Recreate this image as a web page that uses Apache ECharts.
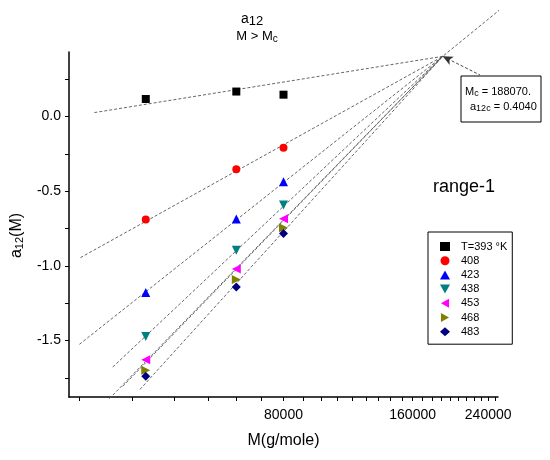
<!DOCTYPE html>
<html>
<head>
<meta charset="utf-8">
<title>a12 M &gt; Mc</title>
<script src="https://cdn.jsdelivr.net/npm/echarts@6/dist/echarts.min.js"></script>
<style>
  html, body { margin: 0; padding: 0; background: #fff; }
  #container { width: 550px; height: 460px; }
</style>
</head>
<body>
<div id="container"></div>
<script>
// molecular weight of the three samples (g/mole)
var massM = [38200, 62100, 80000];

// a12(M), one array per temperature
var a393 = [0.118, 0.168, 0.147];
var a408 = [-0.690, -0.353, -0.208];
var a423 = [-1.178, -0.686, -0.436];
var a438 = [-1.473, -0.896, -0.592];
var a453 = [-1.630, -1.022, -0.684];
var a468 = [-1.700, -1.092, -0.744];
var a483 = [-1.740, -1.142, -0.784];

var seriesNames = ['T=393 °K', '408', '423', '438', '453', '468', '483'];
var seriesValues = [a393, a408, a423, a438, a453, a468, a483];

// dashed fit lines: start point of each, all meet at the critical point
var fitStartM = [28990, 26900, 26750, 32000, 31420, 33750, 37030];
var fitStartA = [0.027, -0.945, -1.526, -1.678, -1.890, -1.808, -1.828];
var Mc = 188070;
var a12c = 0.4040;
var fit423End = [263000, 0.746];   // the 423 line runs on past the crossing

// axis ticks
var xLabelValues = [80000, 160000, 240000];
var yLabelValues = [-1.5, -1.0, -0.5, 0.0];
var yTickValues = [-1.75, -1.5, -1.25, -1.0, -0.75, -0.5, -0.25, 0.0, 0.25];

var xTickValues = [];
for (var k = 3; k <= 28; k++) {
    xTickValues.push(80000 * k / 9);
}

var colors = ['#000000', '#ff0000', '#0000ff', '#008080', '#ff00ff', '#808000', '#000080'];
var symbols = ['rect', 'circle', 'triangle', 'triangle', 'triangle', 'triangle', 'diamond'];
var rotates = [0, 0, 0, 180, 90, -90, 0];
var sizes = [8, 8, 9, 9, 9, 9, 9];
// legend does not follow symbolRotate, so the turned triangles get their own paths
var legendIcons = ['rect', 'circle', 'triangle',
    'path://M0,0 L10,0 L5,9 Z',
    'path://M9,0 L9,10 L0,5 Z',
    'path://M0,0 L0,10 L9,5 Z',
    'diamond'];

var font = 'Liberation Sans';
var subStyle = function (size, shift) {
    return { fontSize: size, fontFamily: font, color: '#000', padding: [shift * 2, 0, 0, 0] };
};

var series = [];
var legendData = [];

for (var i = 0; i < seriesValues.length; i++) {
    var pts = [];
    for (var j = 0; j < massM.length; j++) {
        pts.push([massM[j], seriesValues[i][j]]);
    }
    series.push({
        name: seriesNames[i],
        type: 'scatter',
        data: pts,
        symbol: symbols[i],
        symbolRotate: rotates[i],
        symbolSize: sizes[i],
        itemStyle: { color: colors[i], opacity: 1 },
        z: 3
    });
    legendData.push({ name: seriesNames[i], icon: legendIcons[i], itemStyle: { color: colors[i], opacity: 1 } });
}

for (var i = 0; i < fitStartM.length; i++) {
    var line = [[fitStartM[i], fitStartA[i]], [Mc, a12c]];
    if (i == 2) line.push(fit423End);
    var s = {
        name: 'fit' + i,
        type: 'line',
        data: line,
        symbol: 'none',
        clip: false,
        silent: true,
        lineStyle: { color: '#555', width: 0.9, type: [3, 2] },
        z: 2
    };
    if (i == 0) {
        // arrow from the label box to the crossing point
        s.markLine = {
            silent: true,
            symbol: ['arrow', 'none'],
            symbolSize: [7, 10],
            label: { show: false },
            lineStyle: { color: '#333', width: 0.9, type: [3, 2] },
            data: [[{ coord: [Mc, a12c] }, { x: 480, y: 75 }]]
        };
    }
    series.push(s);
}

var dom = document.getElementById('container');
var myChart = echarts.init(dom);

var option = {
    animation: false,
    backgroundColor: '#fff',
    textStyle: { fontFamily: font },
    grid: { left: 69, right: 52, top: 52, bottom: 63 },
    legend: {
        data: legendData,
        orient: 'vertical',
        left: 428,
        top: 232,
        padding: [9, 5, 7, 12],
        itemWidth: 10,
        itemHeight: 9,
        itemGap: 3.2,
        borderColor: '#000',
        borderWidth: 1,
        selectedMode: false,
        textStyle: { fontSize: 11, fontFamily: font, color: '#000', lineHeight: 10, padding: [0, 0, 0, 6] }
    },
    xAxis: {
        type: 'log',
        logBase: 10,
        min: 25298,
        max: 252982,
        name: 'M(g/mole)',
        nameLocation: 'middle',
        nameGap: 36,
        nameTextStyle: { fontSize: 16, fontFamily: font, color: '#000' },
        axisLine: { onZero: false, lineStyle: { color: '#000', width: 1.5 } },
        axisTick: { inside: false, length: 4, customValues: xTickValues, lineStyle: { color: '#000' } },
        axisLabel: {
            customValues: xLabelValues,
            margin: 11,
            fontSize: 14,
            fontFamily: font,
            color: '#000',
            formatter: function (v) { return String(Math.round(v)); }
        },
        splitLine: { show: false },
        minorTick: { show: false }
    },
    yAxis: {
        type: 'value',
        min: -1.879,
        max: 0.433,
        name: '{a|a}{s|12}{a|(M)}',
        nameLocation: 'middle',
        nameGap: 44,
        nameRotate: 90,
        nameTextStyle: {
            padding: [0, 22, 0, 0],
            rich: {
                a: { fontSize: 16, fontFamily: font, color: '#000' },
                s: subStyle(11, 3)
            }
        },
        axisLine: { show: true, onZero: false, lineStyle: { color: '#000', width: 1.5 } },
        axisTick: { show: true, length: 4, customValues: yTickValues, lineStyle: { color: '#000' } },
        axisLabel: {
            customValues: yLabelValues,
            margin: 8,
            fontSize: 14,
            fontFamily: font,
            color: '#000',
            formatter: function (v) { return v.toFixed(1); }
        },
        splitLine: { show: false }
    },
    graphic: [
        {
            type: 'text', x: 252, y: 19,
            style: {
                text: '{a|a}{s|12}',
                align: 'center', verticalAlign: 'middle',
                rich: { a: { fontSize: 14, fontFamily: font, color: '#000' }, s: subStyle(13, 2) }
            }
        },
        {
            type: 'text', x: 257, y: 36,
            style: {
                text: '{a|M > M}{s|c}',
                align: 'center', verticalAlign: 'middle',
                rich: { a: { fontSize: 13, fontFamily: font, color: '#000' }, s: subStyle(10, 3) }
            }
        },
        {
            type: 'text', x: 464, y: 187,
            style: {
                text: 'range-1', align: 'center', verticalAlign: 'middle',
                fontSize: 18, fontFamily: font, fill: '#000'
            }
        },
        {
            type: 'group',
            children: [
                {
                    type: 'rect',
                    shape: { x: 461, y: 76, width: 80, height: 46 },
                    style: { fill: '#fff', stroke: '#000', lineWidth: 1 }
                },
                {
                    type: 'text', x: 465, y: 92,
                    style: {
                        text: '{a|M}{s|c}{a| = ' + Mc + '.}',
                        verticalAlign: 'middle',
                        rich: { a: { fontSize: 11, fontFamily: font, color: '#000' }, s: subStyle(9, 2) }
                    }
                },
                {
                    type: 'text', x: 470, y: 107,
                    style: {
                        text: '{a|a}{s|12c}{a| = ' + a12c.toFixed(4) + '}',
                        verticalAlign: 'middle',
                        rich: { a: { fontSize: 11, fontFamily: font, color: '#000' }, s: subStyle(9, 2) }
                    }
                }
            ]
        }
    ],
    series: series
};

if (option && typeof option === "object") {
    myChart.setOption(option, true);
}
</script>
</body>
</html>
